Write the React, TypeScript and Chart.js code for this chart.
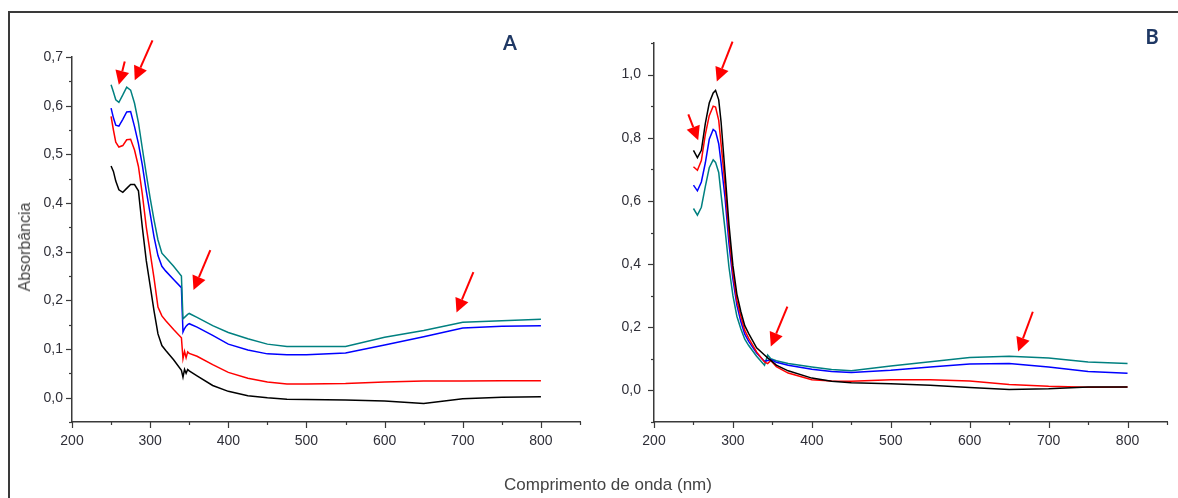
import React, { useEffect, useRef } from "react";
import { Chart, registerables } from "chart.js";

Chart.register(...registerables);

// ---------- Panel A data ----------
const nmA = [250, 253, 256, 260, 265, 270, 275, 280, 285, 290, 295, 300, 305, 310, 315, 320, 330, 340, 342, 344, 346, 348, 350, 360, 380, 400, 425, 450, 475, 500, 550, 600, 650, 700, 750, 800];
const aTeal = [0.643, 0.628, 0.612, 0.607, 0.622, 0.638, 0.632, 0.605, 0.565, 0.512, 0.46, 0.41, 0.365, 0.324, 0.297, 0.288, 0.27, 0.25, 0.162, 0.165, 0.168, 0.171, 0.173, 0.165, 0.148, 0.134, 0.121, 0.11, 0.105, 0.105, 0.105, 0.124, 0.138, 0.155, 0.158, 0.161];
const aBlue = [0.595, 0.575, 0.56, 0.558, 0.572, 0.587, 0.588, 0.557, 0.522, 0.478, 0.425, 0.378, 0.33, 0.292, 0.27, 0.26, 0.243, 0.226, 0.135, 0.142, 0.147, 0.15, 0.152, 0.145, 0.128, 0.11, 0.098, 0.09, 0.088, 0.088, 0.092, 0.108, 0.125, 0.143, 0.147, 0.148];
const aRed = [0.578, 0.55, 0.525, 0.515, 0.518, 0.53, 0.531, 0.509, 0.475, 0.418, 0.351, 0.298, 0.245, 0.186, 0.168, 0.158, 0.14, 0.123, 0.08, 0.095, 0.082, 0.094, 0.091, 0.085, 0.068, 0.052, 0.04, 0.032, 0.028, 0.028, 0.029, 0.032, 0.034, 0.034, 0.035, 0.035];
const aBlack = [0.476, 0.465, 0.445, 0.427, 0.422, 0.43, 0.438, 0.438, 0.425, 0.35, 0.282, 0.23, 0.178, 0.131, 0.107, 0.097, 0.078, 0.056, 0.042, 0.058, 0.05, 0.058, 0.055, 0.045, 0.025, 0.013, 0.004, 0.0, -0.003, -0.004, -0.005, -0.007, -0.012, -0.002, 0.001, 0.002];

// ---------- Panel B data ----------
const nmB = [250, 255, 260, 265, 270, 275, 278, 282, 285, 290, 295, 300, 305, 310, 315, 320, 330, 340, 344, 348, 355, 370, 400, 425, 450, 500, 550, 600, 650, 700, 750, 800];
const bBlack = [0.76, 0.737, 0.76, 0.845, 0.91, 0.942, 0.95, 0.92, 0.85, 0.69, 0.525, 0.395, 0.305, 0.25, 0.205, 0.18, 0.135, 0.112, 0.103, 0.095, 0.08, 0.062, 0.039, 0.029, 0.024, 0.021, 0.016, 0.009, 0.003, 0.005, 0.011, 0.011];
const bRed = [0.708, 0.697, 0.728, 0.81, 0.87, 0.9, 0.897, 0.855, 0.78, 0.65, 0.495, 0.372, 0.285, 0.235, 0.19, 0.165, 0.122, 0.09, 0.085, 0.095, 0.075, 0.055, 0.034, 0.03, 0.029, 0.034, 0.034, 0.03, 0.019, 0.013, 0.01, 0.011];
const bBlue = [0.65, 0.632, 0.66, 0.72, 0.795, 0.826, 0.82, 0.781, 0.72, 0.61, 0.465, 0.352, 0.27, 0.218, 0.178, 0.155, 0.118, 0.092, 0.095, 0.098, 0.089, 0.08, 0.067, 0.06, 0.057, 0.064, 0.074, 0.084, 0.085, 0.074, 0.06, 0.054];
const bTeal = [0.576, 0.555, 0.58, 0.645, 0.705, 0.73, 0.722, 0.69, 0.62, 0.51, 0.39, 0.3, 0.235, 0.195, 0.162, 0.142, 0.108, 0.08, 0.112, 0.1, 0.094, 0.085, 0.074, 0.066, 0.062, 0.077, 0.091, 0.104, 0.108, 0.103, 0.09, 0.085];

// ---------- Annotation arrows (data coords: tail -> tip) ----------
const arrowsA = [
  [267.5, 0.691, 259.9, 0.643],
  [303, 0.734, 280.3, 0.652],
  [377, 0.303, 355.5, 0.221],
  [713.6, 0.258, 692, 0.175],
];
const arrowsB = [
  [299.5, 1.104, 279.6, 0.978],
  [243.5, 0.874, 256, 0.792],
  [369, 0.265, 348, 0.139],
  [680, 0.249, 661.4, 0.123],
];

const COLORS = { teal: "#008080", blue: "#0000ff", red: "#ff0000", black: "#000000" };
const FONT = "'Liberation Sans', Arial, sans-serif";
const AXIS = "#3a3a3a";
const LABEL = "#2f2f38";

const isMajor = (v: number, m: number) => Math.abs(v / m - Math.round(v / m)) < 1e-6;

const decorPlugin = {
  id: "decor",
  afterDraw(chart: any, _args: any, opts: any) {
    const ctx = chart.ctx;
    const xs = chart.scales.x;
    const ys = chart.scales.y;
    ctx.save();
    ctx.strokeStyle = AXIS;
    ctx.lineWidth = 1.2;
    for (const t of xs.ticks) {
      const px = Math.round(xs.getPixelForValue(t.value)) + 0.5;
      const len = isMajor(t.value, opts.xMajor) ? 6 : 3;
      ctx.beginPath();
      ctx.moveTo(px, xs.top);
      ctx.lineTo(px, xs.top + len);
      ctx.stroke();
    }
    for (const t of ys.ticks) {
      const py = Math.round(ys.getPixelForValue(t.value)) + 0.5;
      const len = isMajor(t.value, opts.yMajor) ? 6 : 3;
      ctx.beginPath();
      ctx.moveTo(ys.right, py);
      ctx.lineTo(ys.right - len, py);
      ctx.stroke();
    }
    // arrows
    ctx.strokeStyle = "#ff0000";
    ctx.fillStyle = "#ff0000";
    for (const a of opts.arrows) {
      const x1 = xs.getPixelForValue(a[0]);
      const y1 = ys.getPixelForValue(a[1]);
      const x2 = xs.getPixelForValue(a[2]);
      const y2 = ys.getPixelForValue(a[3]);
      const ang = Math.atan2(y2 - y1, x2 - x1);
      const hl = 14;
      const hw = 7;
      const bx = x2 - hl * Math.cos(ang);
      const by = y2 - hl * Math.sin(ang);
      ctx.lineWidth = 2;
      ctx.beginPath();
      ctx.moveTo(x1, y1);
      ctx.lineTo(bx, by);
      ctx.stroke();
      ctx.beginPath();
      ctx.moveTo(x2, y2);
      ctx.lineTo(bx + hw * Math.sin(ang), by - hw * Math.cos(ang));
      ctx.lineTo(bx - hw * Math.sin(ang), by + hw * Math.cos(ang));
      ctx.closePath();
      ctx.fill();
    }
    ctx.restore();
  },
};

function buildConfig(
  nm: number[],
  series: { data: number[]; color: string }[],
  yMin: number,
  yMax: number,
  yStep: number,
  yMajor: number,
  yWidth: number,
  padTop: number,
  padRight: number,
  yLabelPad: number,
  arrows: number[][]
): any {
  return {
    type: "line",
    data: {
      datasets: series.map((s) => ({
        data: nm.map((x, i) => ({ x, y: s.data[i] })),
        borderColor: s.color,
        borderWidth: 1.5,
        pointRadius: 0,
        tension: 0,
        fill: false,
      })),
    },
    options: {
      responsive: false,
      animation: false,
      devicePixelRatio: 1,
      layout: { padding: { left: 0, top: padTop, right: padRight, bottom: 0 } },
      plugins: {
        legend: { display: false },
        tooltip: { enabled: false },
        decor: { xMajor: 100, yMajor, arrows },
      },
      scales: {
        x: {
          type: "linear",
          min: 200,
          max: 850,
          afterFit: (s: any) => {
            s.height = 76;
          },
          grid: { display: false, drawTicks: false },
          border: { display: true, color: AXIS, width: 1.5 },
          ticks: {
            stepSize: 50,
            autoSkip: false,
            maxRotation: 0,
            padding: 11,
            color: LABEL,
            font: { family: FONT, size: 14 },
            callback: (v: number) => (isMajor(v, 100) ? String(v) : ""),
          },
        },
        y: {
          type: "linear",
          min: yMin,
          max: yMax,
          afterFit: (s: any) => {
            s.width = yWidth;
          },
          grid: { display: false, drawTicks: false },
          border: { display: true, color: AXIS, width: 1.5 },
          ticks: {
            stepSize: yStep,
            autoSkip: false,
            padding: yLabelPad,
            color: LABEL,
            font: { family: FONT, size: 14 },
            callback: (v: number) => (isMajor(v, yMajor) ? v.toFixed(1).replace(".", ",") : ""),
          },
        },
      },
    },
    plugins: [decorPlugin],
  };
}

export default function App() {
  const refA = useRef<HTMLCanvasElement | null>(null);
  const refB = useRef<HTMLCanvasElement | null>(null);

  useEffect(() => {
    const chartA = new Chart(
      refA.current as HTMLCanvasElement,
      buildConfig(
        nmA,
        [
          { data: aTeal, color: COLORS.teal },
          { data: aBlue, color: COLORS.blue },
          { data: aRed, color: COLORS.red },
          { data: aBlack, color: COLORS.black },
        ],
        -0.05,
        0.7,
        0.05,
        0.1,
        72,
        57,
        20,
        9,
        arrowsA
      )
    );
    const chartB = new Chart(
      refB.current as HTMLCanvasElement,
      buildConfig(
        nmB,
        [
          { data: bBlack, color: COLORS.black },
          { data: bRed, color: COLORS.red },
          { data: bBlue, color: COLORS.blue },
          { data: bTeal, color: COLORS.teal },
        ],
        -0.1,
        1.1,
        0.1,
        0.2,
        54,
        43,
        1,
        13,
        arrowsB
      )
    );
    return () => {
      chartA.destroy();
      chartB.destroy();
    };
  }, []);

  const textBase: React.CSSProperties = {
    position: "absolute",
    fontFamily: FONT,
    color: "#444",
    whiteSpace: "nowrap",
  };

  return (
    <div style={{ position: "absolute", left: 0, top: 0, width: 1178, height: 498, background: "#fff", overflow: "hidden" }}>
      <div
        style={{
          position: "absolute",
          left: 8,
          top: 11,
          width: 1178,
          height: 498,
          borderTop: "2px solid #3a3a3a",
          borderLeft: "2px solid #3a3a3a",
        }}
      />
      <canvas ref={refA} width={600} height={498} style={{ position: "absolute", left: 0, top: 0, width: 600, height: 498 }} />
      <canvas ref={refB} width={578} height={498} style={{ position: "absolute", left: 600, top: 0, width: 578, height: 498 }} />
      <div
        style={{
          ...textBase,
          left: 25,
          top: 247,
          fontSize: 16,
          transform: "translate(-50%, -50%) rotate(-90deg)",
        }}
      >
        Absorbância
      </div>
      <div style={{ ...textBase, left: 608, top: 485, fontSize: 17, transform: "translate(-50%, -50%)" }}>
        Comprimento de onda (nm)
      </div>
      <div
        style={{
          ...textBase,
          left: 510,
          top: 42,
          fontSize: 20,
          fontWeight: 700,
          fontFamily: "Lato, 'Open Sans', sans-serif",
          color: "#1f3864",
          transform: "translate(-50%, -50%)",
        }}
      >
        A
      </div>
      <div
        style={{
          ...textBase,
          left: 1152,
          top: 36,
          fontSize: 20,
          fontWeight: 700,
          fontFamily: "Lato, 'Open Sans', sans-serif",
          color: "#1f3864",
          transform: "translate(-50%, -50%)",
        }}
      >
        B
      </div>
    </div>
  );
}
